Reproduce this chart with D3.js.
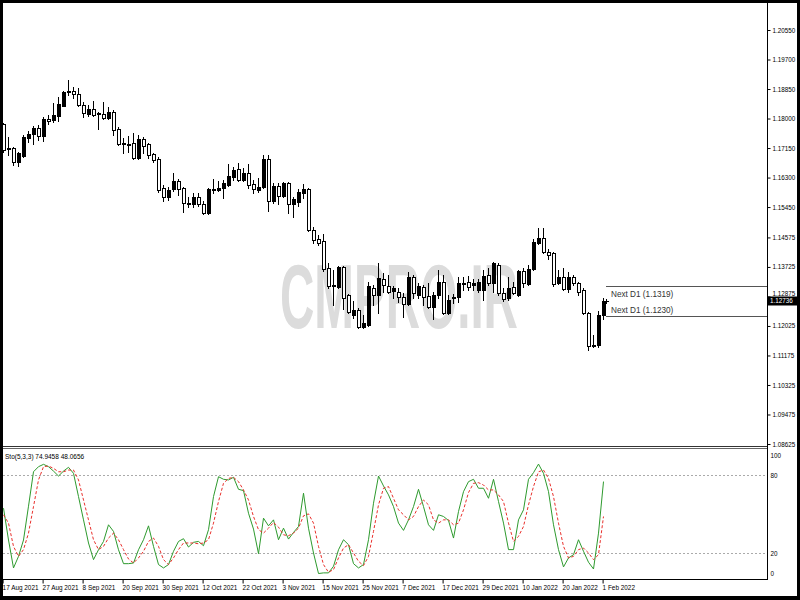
<!DOCTYPE html>
<html><head><meta charset="utf-8">
<script src="https://cdn.jsdelivr.net/npm/d3@7"></script>
<style>
html,body{margin:0;padding:0;background:#000;}
svg{display:block;}
text{font-family:"Liberation Sans",Arial,sans-serif;}
</style>
</head><body>
<svg id="chart" width="800" height="600"></svg>
<script>
// ---------------- DATA ----------------
const startDate = new Date(2021, 7, 17);
const endDate = new Date(2022, 1, 1);

const openP = [
1.1784,1.1715,1.1715,1.1675,1.1692,1.1744,1.1756,1.1773,1.1750,1.1799,
1.1796,1.1807,1.1836,1.1876,1.1879,1.1871,1.1839,1.1813,1.1828,1.1813,
1.1813,1.1802,1.1819,1.1770,1.1730,1.1724,1.1730,1.1686,1.1741,1.1727,
1.1698,1.1684,1.1600,1.1574,1.1597,1.1620,1.1600,1.1557,1.1554,1.1574,
1.1554,1.1528,1.1597,1.1594,1.1600,1.1609,1.1632,1.1655,1.1623,1.1643,
1.1612,1.1594,1.1603,1.1684,1.1563,1.1606,1.1577,1.1614,1.1554,1.1560,
1.1586,1.1597,1.1479,1.1453,1.1447,1.1370,1.1321,1.1315,1.1373,1.1292,
1.1234,1.1249,1.1200,1.1206,1.1312,1.1292,1.1338,1.1318,1.1304,1.1301,
1.1286,1.1266,1.1344,1.1292,1.1315,1.1289,1.1257,1.1292,1.1329,1.1240,
1.1283,1.1286,1.1324,1.1329,1.1321,1.1306,1.1306,1.1350,1.1327,1.1378,
1.1298,1.1283,1.1315,1.1292,1.1361,1.1324,1.1367,1.1442,1.1456,1.1415,
1.1412,1.1327,1.1344,1.1309,1.1344,1.1327,1.1306,1.1240,1.1148,1.1148,
1.1234];
const highP = [
1.1787,1.1747,1.1718,1.1704,1.1753,1.1764,1.1779,1.1781,1.1804,1.1810,
1.1845,1.1862,1.1879,1.1911,1.1891,1.1888,1.1848,1.1839,1.1851,1.1819,
1.1848,1.1833,1.1825,1.1776,1.1744,1.1750,1.1758,1.1753,1.1747,1.1730,
1.1701,1.1689,1.1609,1.1603,1.1643,1.1626,1.1603,1.1574,1.1586,1.1586,
1.1563,1.1600,1.1626,1.1620,1.1623,1.1669,1.1660,1.1672,1.1658,1.1669,
1.1623,1.1629,1.1695,1.1695,1.1614,1.1614,1.1617,1.1617,1.1574,1.1597,
1.1612,1.1600,1.1488,1.1465,1.1468,1.1384,1.1364,1.1375,1.1375,1.1295,
1.1275,1.1255,1.1234,1.1329,1.1321,1.1384,1.1355,1.1350,1.1318,1.1312,
1.1298,1.1358,1.1350,1.1327,1.1321,1.1327,1.1301,1.1364,1.1350,1.1292,
1.1295,1.1344,1.1344,1.1347,1.1338,1.1338,1.1364,1.1370,1.1387,1.1384,
1.1312,1.1344,1.1329,1.1364,1.1370,1.1378,1.1453,1.1485,1.1485,1.1424,
1.1415,1.1364,1.1370,1.1358,1.1350,1.1329,1.1312,1.1243,1.1177,1.1246,
1.1283];
const lowP = [
1.1704,1.1695,1.1666,1.1663,1.1689,1.1732,1.1727,1.1738,1.1735,1.1784,
1.1790,1.1793,1.1836,1.1868,1.1859,1.1836,1.1804,1.1807,1.1807,1.1770,
1.1799,1.1799,1.1753,1.1724,1.1701,1.1704,1.1684,1.1684,1.1701,1.1686,
1.1675,1.1588,1.1563,1.1565,1.1591,1.1580,1.1531,1.1545,1.1545,1.1548,
1.1525,1.1525,1.1586,1.1591,1.1571,1.1606,1.1623,1.1620,1.1620,1.1600,
1.1586,1.1588,1.1600,1.1534,1.1557,1.1554,1.1574,1.1528,1.1517,1.1548,
1.1571,1.1476,1.1442,1.1436,1.1361,1.1312,1.1263,1.1312,1.1252,1.1240,
1.1226,1.1197,1.1197,1.1203,1.1263,1.1240,1.1301,1.1298,1.1283,1.1272,
1.1229,1.1263,1.1283,1.1283,1.1263,1.1255,1.1223,1.1283,1.1237,1.1237,
1.1269,1.1272,1.1306,1.1306,1.1306,1.1301,1.1278,1.1321,1.1301,1.1292,
1.1275,1.1278,1.1295,1.1289,1.1315,1.1321,1.1364,1.1439,1.1412,1.1395,
1.1318,1.1324,1.1306,1.1301,1.1321,1.1292,1.1237,1.1134,1.1142,1.1142,
1.1223];
const closeP = [
1.1709,1.1712,1.1675,1.1701,1.1747,1.1756,1.1773,1.1750,1.1799,1.1793,
1.1810,1.1842,1.1876,1.1879,1.1871,1.1839,1.1816,1.1828,1.1810,1.1816,
1.1802,1.1819,1.1767,1.1727,1.1727,1.1727,1.1686,1.1741,1.1721,1.1695,
1.1681,1.1594,1.1574,1.1594,1.1620,1.1597,1.1557,1.1554,1.1574,1.1554,
1.1528,1.1597,1.1594,1.1600,1.1614,1.1635,1.1652,1.1623,1.1643,1.1609,
1.1597,1.1603,1.1684,1.1563,1.1606,1.1577,1.1614,1.1554,1.1568,1.1588,
1.1597,1.1479,1.1450,1.1442,1.1367,1.1318,1.1318,1.1373,1.1283,1.1243,
1.1249,1.1200,1.1211,1.1318,1.1292,1.1341,1.1321,1.1301,1.1312,1.1286,
1.1266,1.1344,1.1298,1.1318,1.1286,1.1257,1.1292,1.1329,1.1240,1.1278,
1.1286,1.1327,1.1327,1.1315,1.1327,1.1329,1.1347,1.1327,1.1384,1.1298,
1.1281,1.1312,1.1298,1.1361,1.1327,1.1367,1.1444,1.1456,1.1415,1.1406,
1.1324,1.1344,1.1309,1.1344,1.1327,1.1301,1.1240,1.1145,1.1145,1.1234,
1.12736];

const stochK = [
54.5,30,8.5,17.4,30,56,82.5,86.4,88.2,86.4,
83,79.2,83,85.9,81.3,63.4,45.5,27.7,14.9,22.5,
28.9,41.7,36.6,22.5,11.8,11.8,12.3,22.5,30.2,40.9,
25.1,11.1,8.5,11.1,21.3,28.9,31,24.6,28.2,28.9,
25.6,37.9,63.4,78.7,76.7,76.2,78.2,69,68,50.6,
38.4,19.5,46.8,40.9,45.5,30.2,39.1,30.7,35.8,40.4,
66,39.1,20,4.2,4.7,4.7,9.8,22.5,30.2,26.4,
11.8,8.5,11.1,30.2,58.3,79.2,71.6,64.7,55.7,43,
37.4,45.5,55.7,69,55.7,41.7,37.4,49.4,48.1,45,
31.5,51.9,67.2,74.9,76.7,69.8,69.8,62.1,76.7,59.6,
43,22.6,22.6,45.5,53.2,76.7,81.8,88.4,81.3,67.2,
41.7,22.6,9.3,16.2,18.7,30.2,21.3,12.9,7.7,35.3,
74.9458];
const stochD = [
49.4,43,25.1,17.4,22.6,35.3,55.7,76.2,86.4,86.9,
85.1,82.5,82.5,83.8,83.8,76.2,60.8,45.5,30.2,22.6,
25.1,31.5,35.3,30.2,22.6,15.4,12.3,16.2,21.3,28.9,
31.5,25.1,14.9,11.1,16.2,22.6,27.7,27.7,27.7,27.1,
27.7,30.2,43,59.6,73.6,77.4,78.2,74.9,68.5,60.8,
48.1,37.9,35.3,39.1,43.5,39.9,34,33.3,35.3,39.1,
48.6,50.1,43,25.1,11.1,5.2,7.2,16.2,23.8,26.4,
20,13.6,10.3,17.4,36.6,57,69.8,71.1,62.1,53.2,
49.4,45.5,48.1,55.7,60.8,57,45.5,43,45.5,45.5,
41.7,43,53.2,66.5,73.6,74.1,72.3,68.5,68.5,64.7,
59.6,43,28.9,32.8,40.4,57,71.1,82.5,83.8,77.4,
63.4,43,25.1,16.2,17.4,22.6,23.8,20,14.9,18.7,
48.0656];

const priceTicks = [1.20550,1.19700,1.18850,1.18000,1.17150,1.16300,1.15450,1.14575,1.13725,1.12875,1.12025,1.11175,1.10325,1.09475,1.08625];
const stochTicks = [100,80,20,0];
const stochLevels = [80,20];
const nextD1Levels = [1.1319, 1.1230];
const lastPrice = 1.12736;
const legendText = "Sto(5,3,3) 74.9458 48.0656";
const watermarkText = "CMPRO.IR";
const dateTickEvery = 8;

// ---------------- BUILD ----------------
const dates = d3.timeDay.range(startDate, d3.timeDay.offset(endDate, 1))
  .filter(d => d.getDay() !== 0 && d.getDay() !== 6);
const bars = dates.map((d, i) => ({date: d, o: openP[i], h: highP[i], l: lowP[i], c: closeP[i], k: stochK[i], dd: stochD[i]}));

const svg = d3.select("#chart");
const W = 800, H = 600;
const L = {left: 3, right: 767.5, priceTop: 3, priceBottom: 446, stTop: 449, stBottom: 579.5};

svg.append("rect").attr("x", 0).attr("y", 0).attr("width", W).attr("height", H).attr("fill", "#000");
svg.append("rect").attr("x", 3).attr("y", 3).attr("width", 794).attr("height", 593).attr("fill", "#fff");

const x = d3.scalePoint().domain(dates).range([2.6, 602.6]);
const y = d3.scaleLinear().domain([1.08625, 1.20550]).range([444, 30]);
const ys = d3.scaleLinear().domain([0, 100]).range([579, 449]);
const cx = d => Math.round(x(d));

const defs = svg.append("defs");
defs.append("clipPath").attr("id", "clipP").append("rect")
  .attr("x", L.left).attr("y", L.priceTop).attr("width", L.right - L.left).attr("height", L.priceBottom - L.priceTop);
defs.append("clipPath").attr("id", "clipS").append("rect")
  .attr("x", L.left).attr("y", L.stTop).attr("width", L.right - L.left).attr("height", L.stBottom - L.stTop);

// watermark (condensed by horizontal scaling so its box is its true size)
{
  const wm = svg.append("text").attr("x", 0).attr("y", 0)
    .attr("font-size", 90).attr("font-weight", "bold")
    .attr("fill", "#dcdcdc").text(watermarkText);
  const natural = wm.node().getComputedTextLength() || 450;
  const sx = 238 / natural;
  wm.attr("transform", `translate(280,328) scale(${sx},1)`);
}

// candles
const gC = svg.append("g").attr("clip-path", "url(#clipP)").attr("shape-rendering", "crispEdges");
const candle = gC.selectAll("g.candle").data(bars).join("g").attr("class", "candle");
candle.append("line")
  .attr("x1", d => cx(d.date) + 0.5).attr("x2", d => cx(d.date) + 0.5)
  .attr("y1", d => Math.round(y(d.h))).attr("y2", d => Math.round(y(d.l)) + 1)
  .attr("stroke", "#000").attr("stroke-width", 1);
candle.append("rect")
  .attr("x", d => cx(d.date) - 0.5)
  .attr("y", d => Math.round(y(Math.max(d.o, d.c))) + 0.5)
  .attr("width", 3)
  .attr("height", d => Math.max(1, Math.round(y(Math.min(d.o, d.c))) - Math.round(y(Math.max(d.o, d.c)))))
  .attr("fill", d => d.c > d.o ? "#000" : "#fff")
  .attr("stroke", "#000").attr("stroke-width", 1);

// Next D1 lines
const nx0 = 606, nx1 = L.right;
nextD1Levels.forEach((v, i) => {
  const yy = Math.round(y(v)) + 0.5;
  svg.append("line").attr("x1", nx0).attr("x2", nx1).attr("y1", yy).attr("y2", yy)
    .attr("stroke", "#555").attr("stroke-width", 1).attr("shape-rendering", "crispEdges");
  svg.append("text").attr("x", 611).attr("y", i === 0 ? yy + 10 : yy - 4)
    .attr("font-size", 8.2).attr("fill", "#333").text(`Next D1 (${v.toFixed(4)})`);
});
// last price marker "+"
{
  const lx = 606, ly = Math.round(y(lastPrice));
  svg.append("path").attr("d", `M${lx - 2},${ly + 0.5}H${lx + 3}M${lx + 0.5},${ly - 2}V${ly + 3}`)
    .attr("stroke", "#000").attr("stroke-width", 1).attr("shape-rendering", "crispEdges");
}

// price axis
const axP = svg.append("g").attr("transform", `translate(${L.right},0)`)
  .call(d3.axisRight(y).tickValues(priceTicks).tickSize(3).tickSizeOuter(0).tickPadding(2).tickFormat(d3.format(".5f")));
axP.select(".domain").remove();
axP.selectAll("line").attr("stroke", "#000");
axP.selectAll("text").attr("font-size", 6.3).attr("fill", "#000").attr("font-family", "Liberation Sans, Arial, sans-serif")
  .attr("dy", d => Math.abs(d - 1.12875) < 1e-9 ? "-0.2em" : "0.32em");

// current price box
{
  const ly = y(lastPrice);
  svg.append("rect").attr("x", 768).attr("y", Math.round(ly) - 4.5).attr("width", 29).attr("height", 9).attr("fill", "#000");
  svg.append("text").attr("x", 770).attr("y", ly + 2.2).attr("font-size", 6.3).attr("fill", "#fff").text(lastPrice.toFixed(5));
}

// stochastic levels
svg.append("g").selectAll("line").data(stochLevels).join("line")
  .attr("x1", L.left).attr("x2", L.right)
  .attr("y1", d => Math.round(ys(d)) + 0.5).attr("y2", d => Math.round(ys(d)) + 0.5)
  .attr("stroke", "#aaa").attr("stroke-dasharray", "2,2").attr("shape-rendering", "crispEdges");

const gS = svg.append("g").attr("clip-path", "url(#clipS)");
gS.append("path").datum(bars)
  .attr("d", d3.line().x(d => cx(d.date) + 0.5).y(d => ys(d.k)))
  .attr("fill", "none").attr("stroke", "#2e9a2e").attr("stroke-width", 1);
gS.append("path").datum(bars)
  .attr("d", d3.line().x(d => cx(d.date) + 0.5).y(d => ys(d.dd)))
  .attr("fill", "none").attr("stroke", "#e8302c").attr("stroke-width", 1).attr("stroke-dasharray", "3,2");

// stochastic axis
const axS = svg.append("g").attr("transform", `translate(${L.right},0)`)
  .call(d3.axisRight(ys).tickValues(stochTicks).tickSize(0).tickSizeOuter(0).tickPadding(3));
axS.select(".domain").remove();
axS.selectAll("text").attr("font-size", 6.3).attr("fill", "#000").attr("font-family", "Liberation Sans, Arial, sans-serif")
  .attr("dy", d => d === 100 ? "1.3em" : d === 0 ? "-0.6em" : "0.32em");

// legend
svg.append("text").attr("x", 5).attr("y", 459).attr("font-size", 6.5).attr("fill", "#000").text(legendText);

// frame lines
const fr = svg.append("g").attr("stroke", "#000").attr("shape-rendering", "crispEdges");
fr.append("line").attr("x1", L.left).attr("x2", L.right).attr("y1", 446.5).attr("y2", 446.5).attr("stroke", "#333");
fr.append("line").attr("x1", L.left).attr("x2", L.right).attr("y1", 448.5).attr("y2", 448.5).attr("stroke", "#666");
fr.append("line").attr("x1", L.left).attr("x2", L.right).attr("y1", L.stBottom).attr("y2", L.stBottom);
fr.append("line").attr("x1", L.right).attr("x2", L.right).attr("y1", 3).attr("y2", L.stBottom);

// date axis
const dateTicks = dates.filter((d, i) => i % dateTickEvery === 0);
const axD = svg.append("g").attr("transform", `translate(0,${L.stBottom})`)
  .call(d3.axisBottom(x).tickValues(dateTicks).tickSize(4).tickSizeOuter(0).tickFormat(d3.timeFormat("%-d %b %Y")));
axD.select(".domain").remove();
axD.selectAll("line").attr("stroke", "#000");
axD.selectAll("text").attr("text-anchor", "start").attr("x", -0.5).attr("y", 10.5).attr("dy", 0)
  .attr("font-size", 6.4).attr("fill", "#000").attr("font-family", "Liberation Sans, Arial, sans-serif");

// outer border overlay (left edge)
svg.append("rect").attr("x", 0).attr("y", 0).attr("width", 3).attr("height", H).attr("fill", "#000");
</script>
</body></html>
